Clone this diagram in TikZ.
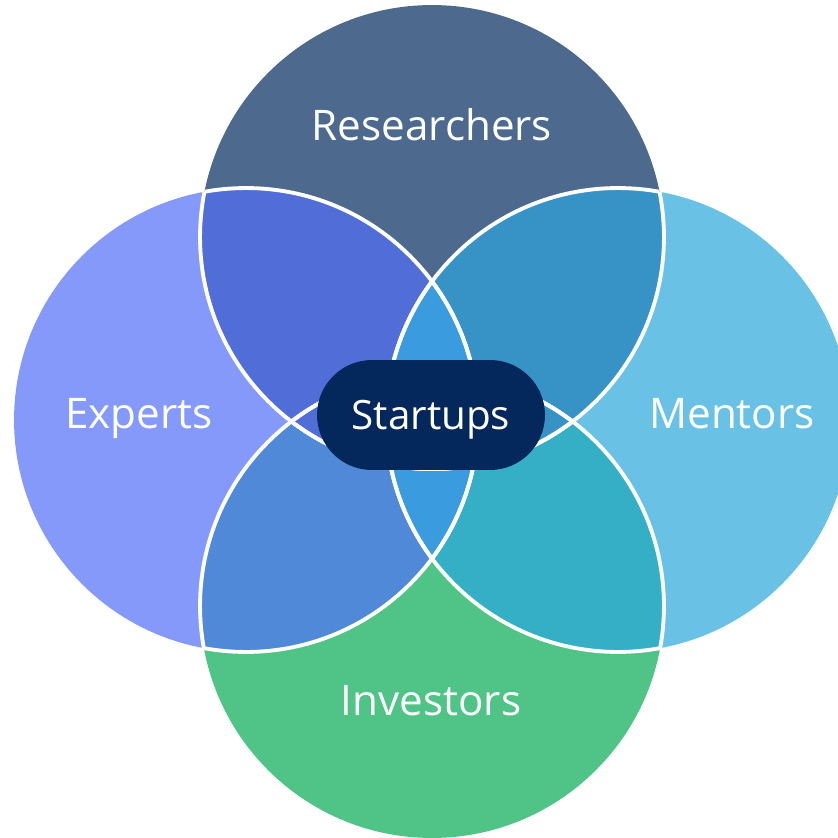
\documentclass[tikz,border=0pt]{standalone}
\usepackage{fontspec}
\setmainfont{Open Sans}
\usetikzlibrary{calc}

\definecolor{topc}{HTML}{4D6A8E}
\definecolor{leftc}{HTML}{8599FA}
\definecolor{rightc}{HTML}{6AC1E6}
\definecolor{botc}{HTML}{4FC486}
\definecolor{tlc}{HTML}{516ED8}
\definecolor{trc}{HTML}{3793C6}
\definecolor{blc}{HTML}{5089D8}
\definecolor{brc}{HTML}{35AFC6}
\definecolor{midc}{HTML}{3A9BDF}
\definecolor{hubc}{HTML}{04275C}

\newcommand\rad{4.64cm}

\begin{document}
\begin{tikzpicture}[
  x=0.02cm, y=-0.02cm,
  every circle/.style={radius=\rad},
  rim/.style={draw=white, line width=2.2pt},
  group/.style={text=white, anchor=base, inner sep=0pt, font=\fontsize{24}{28}\selectfont},
  hub/.style={fill=hubc, text=white, rounded corners=1.1cm, minimum width=4.56cm,
              minimum height=2.2cm, inner sep=0pt, text depth=0pt,
              font=\fontsize{23}{27}\selectfont}
]
\useasboundingbox (0,0) rectangle (838,838);
\clip (0,0) rectangle (838,838);

\coordinate (T) at (432,237);
\coordinate (B) at (432,606);
\coordinate (L) at (246,420);
\coordinate (R) at (618,420);

% the four circles
\fill[topc] (T) circle;
\fill[leftc] (L) circle;
\fill[rightc] (R) circle;
\fill[botc] (B) circle;

% overlaps
\begin{scope}
  \clip (B) circle;
  \fill[blc] (L) circle;
  \fill[brc] (R) circle;
\end{scope}
\begin{scope}
  \clip (T) circle;
  \fill[tlc] (L) circle;
  \fill[trc] (R) circle;
\end{scope}
\begin{scope}
  \clip (L) circle;
  \fill[midc] (R) circle;
\end{scope}

% white rims, only inside other circles
\begin{scope}
  \clip (T) circle;
  \draw[rim] (L) circle;
  \draw[rim] (R) circle;
  \draw[rim] (B) circle;
\end{scope}
\begin{scope}
  \clip (B) circle;
  \draw[rim] (L) circle;
  \draw[rim] (R) circle;
  \draw[rim] (T) circle;
\end{scope}
\begin{scope}
  \clip (L) circle;
  \draw[rim] (T) circle;
  \draw[rim] (B) circle;
  \draw[rim] (R) circle;
\end{scope}
\begin{scope}
  \clip (R) circle;
  \draw[rim] (T) circle;
  \draw[rim] (B) circle;
  \draw[rim] (L) circle;
\end{scope}

\node[group] (res) at (432,140) {Researchers};
\node[group] (exp) at (139,428) {Experts};
\node[group] (men) at (732,428) {Mentors};
\node[group] (inv) at (431,715) {Investors};

\node[hub] (start) at (431,415) {Startups};
\end{tikzpicture}
\end{document}
